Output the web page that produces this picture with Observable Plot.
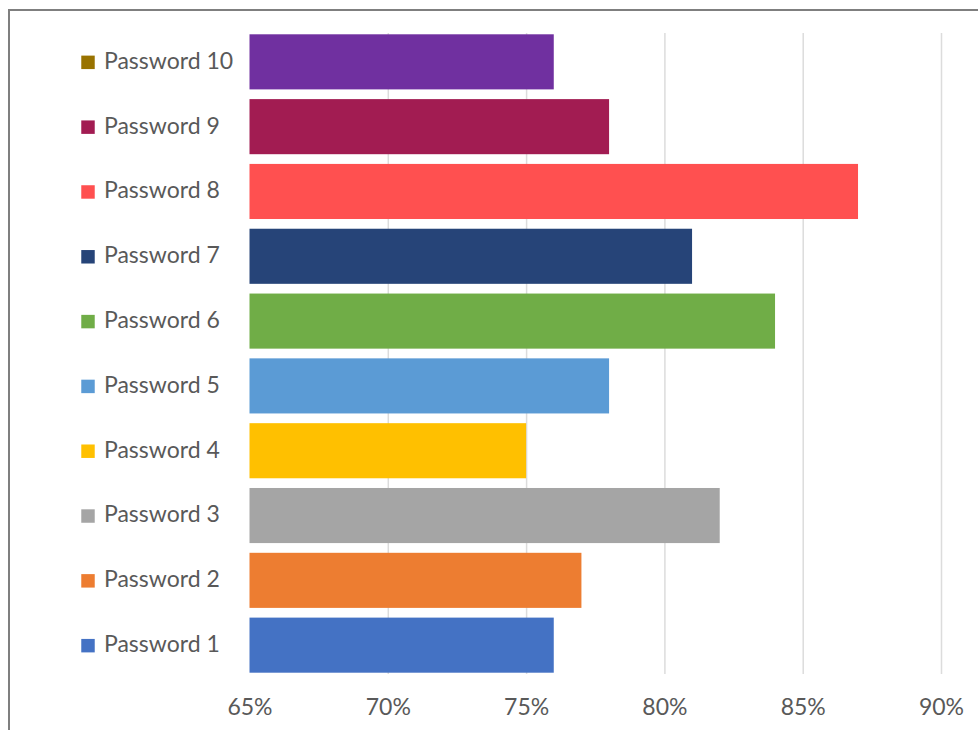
<!DOCTYPE html>
<html>
<head>
<meta charset="utf-8">
<script src="https://cdn.jsdelivr.net/npm/d3@7"></script>
<script src="https://cdn.jsdelivr.net/npm/@observablehq/plot@0.6"></script>
<style>
  html, body { margin: 0; padding: 0; background: #fff; overflow: hidden; }
  #wrap { position: relative; width: 978px; height: 730px; }
  #border { position: absolute; left: 8px; top: 9px; width: 1000px; height: 800px; border: 2px solid #7f7f7f; box-sizing: border-box; pointer-events: none; }
  svg { display: block; }
</style>
</head>
<body>
<div id="wrap"><div id="chart"></div><div id="border"></div></div>
<script>
const categories = ["Password 1","Password 2","Password 3","Password 4","Password 5","Password 6","Password 7","Password 8","Password 9","Password 10"];
const values = [76, 77, 82, 75, 78, 84, 81, 87, 78, 76];
const barColors = ["#4472c4","#ed7d31","#a5a5a5","#ffc000","#5b9bd5","#70ad47","#264478","#ff5050","#a21c52","#7030a0"];
const legendColors = ["#4472c4","#ed7d31","#a5a5a5","#ffc000","#5b9bd5","#70ad47","#264478","#ff5050","#a21c52","#997300"];
const xTicks = [65, 70, 75, 80, 85, 90];

const data = categories.map((c, i) => ({cat: c, value: values[i], bar: barColors[i], leg: legendColors[i]}));
const order = categories.slice().reverse();
const font = "Lato, 'Open Sans', sans-serif";

const chart = Plot.plot({
  width: 978,
  height: 730,
  marginLeft: 249.5,
  marginRight: 37,
  marginTop: 33,
  marginBottom: 56,
  style: {fontFamily: font, fontSize: "23px", color: "#595959", background: "#fff"},
  x: {domain: [65, 90], ticks: xTicks, tickFormat: d => d + "%", label: null},
  y: {domain: order, padding: 0.15, paddingOuter: 0.02, round: false, axis: null},
  marks: [
    Plot.gridX(xTicks.slice(1), {stroke: "#dcdcdc", strokeOpacity: 1, strokeWidth: 1.5}),
    Plot.barX(data, {x1: 65, x2: "value", y: "cat", fill: "bar"}),
    Plot.axisX({ticks: xTicks, tickFormat: d => d + "%", tickSize: 0, tickPadding: 24, fill: "#595959", fontSize: 23, label: null}),
    Plot.dot(data, {x: () => 65, y: "cat", dx: -162, symbol: "square", r: 7.6, fill: "leg", stroke: null}),
    Plot.text(data, {x: () => 65, y: "cat", text: "cat", dx: -146, dy: -1, textAnchor: "start", fill: "#595959", fontSize: 23})
  ]
});
document.getElementById("chart").appendChild(chart);
</script>
</body>
</html>
